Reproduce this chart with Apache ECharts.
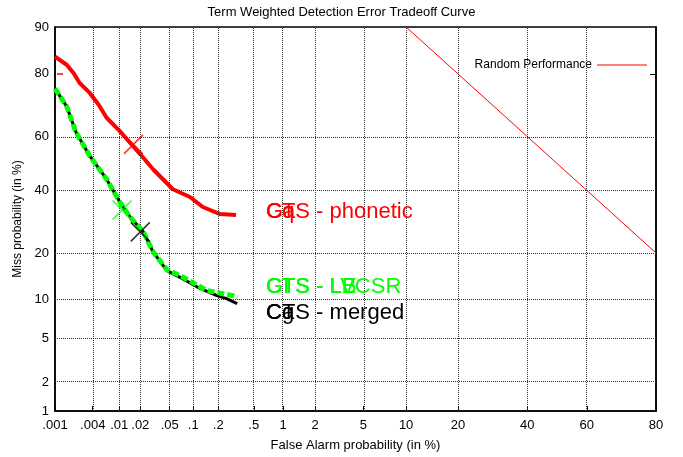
<!DOCTYPE html>
<html><head><meta charset="utf-8">
<script src="https://cdn.jsdelivr.net/npm/echarts@6/dist/echarts.min.js"></script>
<style>html,body{margin:0;padding:0;background:#fff}#c{width:683px;height:457px}</style>
</head><body><div id="c"></div>
<script>
// ---- data (percent values) ----
const xTickLabels = ['.001','.004','.01','.02','.05','.1','.2','.5','1','2','5','10','20','40','60','80'];
const xTickValues = [0.001,0.004,0.01,0.02,0.05,0.1,0.2,0.5,1,2,5,10,20,40,60,80];
const yTickLabels = ['1','2','5','10','20','40','60','80','90'];
const yTickValues = [1,2,5,10,20,40,60,80,90];
const yGridValues = [2,5,10,20,40,60];

const faPhonetic   = [0.001,0.00155,0.002,0.0025,0.0036,0.0049,0.0065,0.0102,0.0143,0.020,0.030,0.055,0.091,0.131,0.21,0.32];
const missPhonetic = [84.2,82.3,80.2,77.5,74.6,71.0,66.6,61.9,57.7,53.4,47.8,40.4,37.6,34.1,31.7,31.4];

const faMerged   = [0.001,0.00155,0.0022,0.0036,0.0065,0.0102,0.0143,0.022,0.030,0.046,0.074,0.121,0.193,0.25,0.33];
const missMerged = [75.9,70.4,61.4,52.8,44.1,35.8,30.7,26.0,20.3,15.7,13.9,12.0,10.7,10.2,9.4];

const faLvcsr   = [0.001,0.00155,0.0022,0.0036,0.0065,0.0102,0.0143,0.022,0.030,0.046,0.068,0.147,0.295,0.33];
const missLvcsr = [75.9,70.4,61.4,52.8,44.1,35.8,30.7,26.0,20.3,15.9,14.6,11.6,10.7,10.4];

const faRandom   = [10,80];
const missRandom = [90,20];

const markFa    = [0.016,0.011,0.020];
const markMiss  = [57.1,33.1,26.0];
const markColor = ['#ff0000','#00ff00','#000000'];

// ---- normal deviate (probit) scale ----
function probit(p){
  const a=[-3.969683028665376e+01,2.209460984245205e+02,-2.759285104469687e+02,1.383577518672690e+02,-3.066479806614716e+01,2.506628277459239e+00];
  const b=[-5.447609879822406e+01,1.615858368580409e+02,-1.556989798598866e+02,6.680131188771972e+01,-1.328068155288572e+01];
  const c=[-7.784894002430293e-03,-3.223964580411365e-01,-2.400758277161838e+00,-2.549732539343734e+00,4.374664141464968e+00,2.938163982698783e+00];
  const d=[7.784695709041462e-03,3.224671290700398e-01,2.445134137142996e+00,3.754408661907416e+00];
  const pl=0.02425, ph=1-pl; let q,r;
  if(p<pl){q=Math.sqrt(-2*Math.log(p));return (((((c[0]*q+c[1])*q+c[2])*q+c[3])*q+c[4])*q+c[5])/((((d[0]*q+d[1])*q+d[2])*q+d[3])*q+1);}
  if(p<=ph){q=p-0.5;r=q*q;return (((((a[0]*r+a[1])*r+a[2])*r+a[3])*r+a[4])*r+a[5])*q/(((((b[0]*r+b[1])*r+b[2])*r+b[3])*r+b[4])*r+1);}
  q=Math.sqrt(-2*Math.log(1-p));return -(((((c[0]*q+c[1])*q+c[2])*q+c[3])*q+c[4])*q+c[5])/((((d[0]*q+d[1])*q+d[2])*q+d[3])*q+1);
}
const pz = v => probit(v/100);
const pts = (xs,ys) => xs.map((x,i)=>[pz(x),pz(ys[i])]);
function lookup(vals,labels){return v=>{let best=0,bd=1e9;vals.forEach((t,i)=>{const dd=Math.abs(pz(t)-v);if(dd<bd){bd=dd;best=i;}});return labels[best];};}

const FONT = 'Liberation Sans, Arial, sans-serif';
const xMin = pz(xTickValues[0]), xMax = pz(xTickValues[xTickValues.length-1]);
const yMin = pz(yTickValues[0]), yMax = pz(yTickValues[yTickValues.length-1]);

const chart = echarts.init(document.getElementById('c'), null, {renderer:'canvas'});
const labelStyle = (color,size)=>({fill:color,font:size+'px '+FONT,textVerticalAlign:'middle',verticalAlign:'middle'});
function txt(x,y,t,color){return {type:'text',x:x,y:y,style:Object.assign({text:t},labelStyle(color,22)),z:50};}

chart.setOption({
  animation:false,
  backgroundColor:'#fff',
  title:{text:'Term Weighted Detection Error Tradeoff Curve',left:'center',top:1,
    textStyle:{fontFamily:FONT,fontSize:13,fontWeight:'normal',color:'#000'}},
  grid:{left:55,right:27,top:27,bottom:44,show:true,borderColor:'#000',borderWidth:1.5,backgroundColor:'transparent'},
  legend:{data:['Random Performance'],right:31,top:54,align:'right',icon:'rect',itemWidth:50,itemHeight:1,itemGap:0,
    textStyle:{fontFamily:FONT,fontSize:12,color:'#000'}},
  xAxis:[{type:'value',min:xMin,max:xMax,
    name:'False Alarm probability (in %)',nameLocation:'middle',nameGap:28,
    nameTextStyle:{fontFamily:FONT,fontSize:13,color:'#000'},
    axisLine:{show:true,onZero:false,lineStyle:{color:'#000',width:1.5}},
    axisTick:{show:true,inside:true,length:5,customValues:xTickValues.map(pz),lineStyle:{color:'#000'}},
    axisLabel:{show:true,customValues:xTickValues.map(pz),formatter:lookup(xTickValues,xTickLabels),
      fontFamily:FONT,fontSize:13,color:'#000',margin:8,showMinLabel:true,showMaxLabel:true},
    splitLine:{show:false}}],
  yAxis:[{type:'value',min:yMin,max:yMax,
    name:'Miss probability (in %)',nameLocation:'middle',nameGap:30,nameRotate:90,
    nameTextStyle:{fontFamily:FONT,fontSize:12,color:'#000'},
    axisLine:{show:true,onZero:false,lineStyle:{color:'#000',width:1.5}},
    axisTick:{show:false},
    axisLabel:{show:true,customValues:yTickValues.map(pz),formatter:lookup(yTickValues,yTickLabels),
      fontFamily:FONT,fontSize:13,color:'#000',margin:6,showMinLabel:true,showMaxLabel:true},
    splitLine:{show:false}},
   {type:'value',min:yMin,max:yMax,position:'right',
    axisLine:{show:true,onZero:false,lineStyle:{color:'#000',width:1.5}},
    axisTick:{show:true,inside:true,length:6,customValues:[pz(80)],lineStyle:{color:'#000'}},
    axisLabel:{show:false},splitLine:{show:false}},
   {type:'value',min:yMin,max:yMax,position:'left',offset:-2,
    axisLine:{show:false,onZero:false},
    axisTick:{show:true,inside:true,length:6,customValues:[pz(80)],lineStyle:{color:'#ff0000',width:1.5}},
    axisLabel:{show:false},splitLine:{show:false}}],
  series:[
    {type:'line',name:'grid',data:[],silent:true,z:1,
      markLine:{silent:true,symbol:['none','none'],label:{show:false},animation:false,
        lineStyle:{type:'dotted',color:'#333',width:1},
        data:xTickValues.slice(1,-1).map(v=>({xAxis:pz(v)})).concat(yGridValues.map(v=>({yAxis:pz(v)})))}},
    {type:'line',name:'Random Performance',data:pts(faRandom,missRandom),symbol:'none',
      lineStyle:{color:'#ff0000',width:1},itemStyle:{color:'#ff0000'},z:3},
    {type:'line',name:'CTS - phonetic',data:pts(faPhonetic,missPhonetic),symbol:'none',
      lineStyle:{color:'#ff0000',width:4},z:4},
    {type:'line',name:'CTS - merged',data:pts(faMerged,missMerged),symbol:'none',
      lineStyle:{color:'#000',width:3},z:5},
    {type:'line',name:'CTS - LVCSR',data:pts(faLvcsr,missLvcsr),symbol:'none',
      lineStyle:{color:'#00ff00',width:5,type:[7,3]},z:6},
    {type:'scatter',name:'marks',symbol:'path://M0,0L10,10M10,0L0,10',symbolSize:19,z:8,
      data:markFa.map((f,i)=>({value:[pz(f),pz(markMiss[i])],itemStyle:{color:'none',borderColor:markColor[i],borderWidth:1.5}}))}
  ],
  graphic:[
    txt(266,212,'Ga','#ff0000'), txt(266,212,'Cq','#ff0000'), txt(266,212,'CTS - phonetic','#ff0000'),
    txt(266,287,'GI','#00ff00'), txt(266,287,'CTS - LE','#00ff00'), txt(266,287,'CTS - LB','#00ff00'), txt(266,287,'CTS - LVCSR','#00ff00'),
    txt(266,313,'Ca','#000'), txt(266,313,'Cg','#000'), txt(266,313,'CTS - merged','#000')
  ]
});
</script></body></html>
